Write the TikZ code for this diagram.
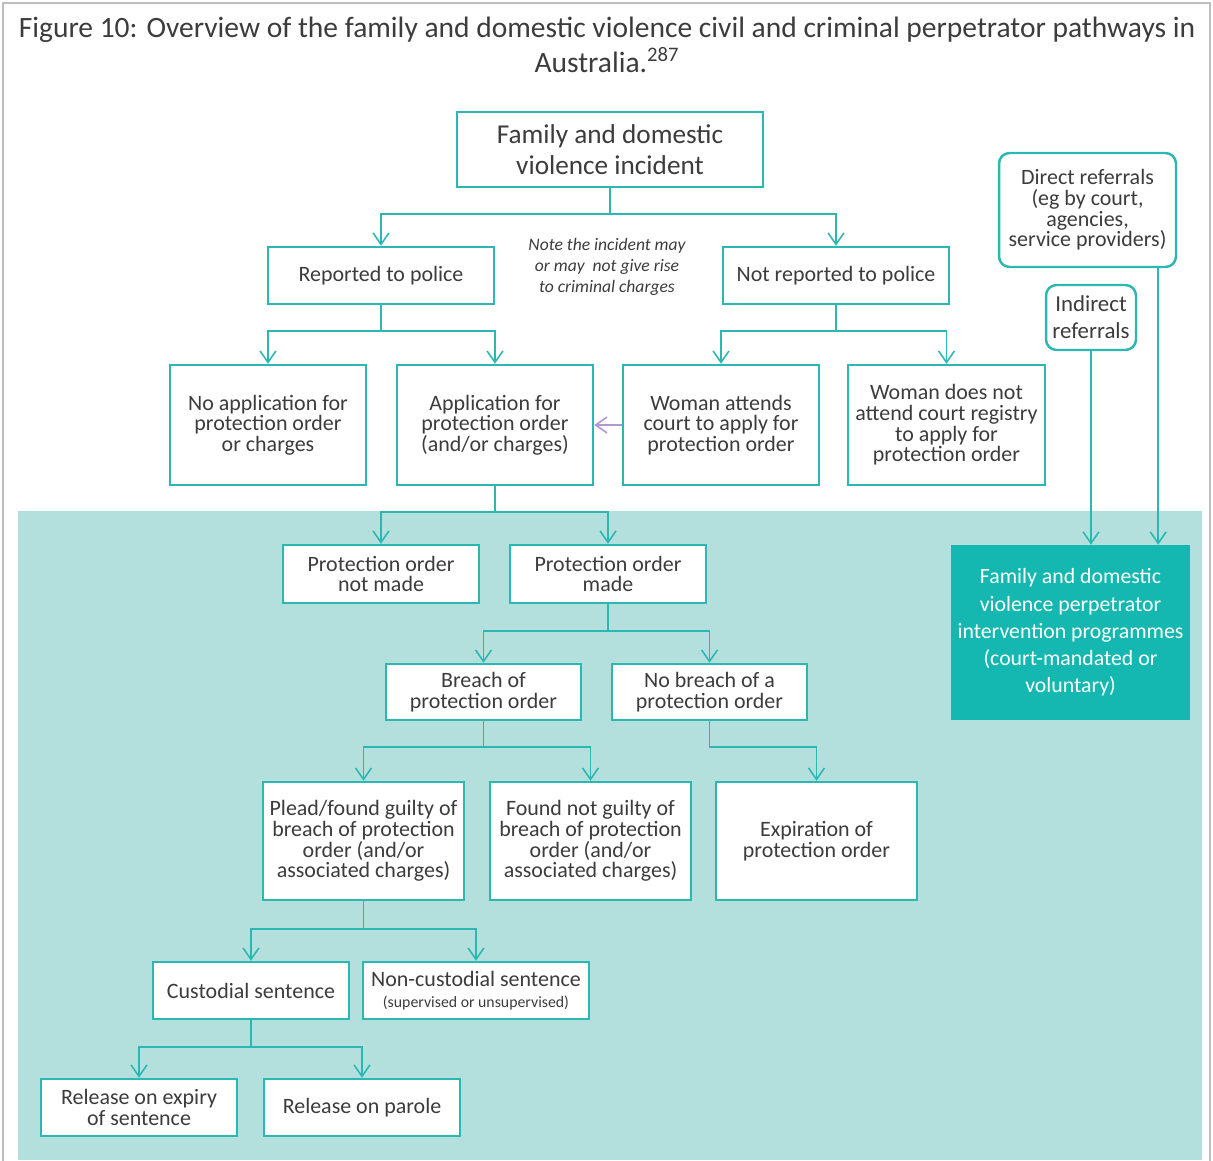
\documentclass[tikz,border=0pt]{standalone}
\usepackage{fontspec}
\setmainfont{Carlito}
\usepackage{xcolor}
\usetikzlibrary{arrows.meta,positioning,calc}
\definecolor{lineteal}{RGB}{44,184,178}
\definecolor{panel}{RGB}{179,223,221}
\definecolor{programmeteal}{RGB}{20,184,176}
\definecolor{referral}{RGB}{178,150,212}
\definecolor{framegrey}{RGB}{190,190,190}
\definecolor{textgrey}{RGB}{60,60,60}

\begin{document}
\begin{tikzpicture}[
    x=0.02cm, y=-0.02cm,
    pathbox/.style={rectangle, draw=lineteal, line width=1.4pt, fill=white, align=center, inner sep=2pt, text=textgrey, font=\fontsize{12.5}{11.8}\selectfont},
    wide/.style={minimum width=3.92cm, minimum height=2.4cm},
    short/.style={minimum width=3.92cm, minimum height=1.14cm},
    referralbox/.style={pathbox, rounded corners=6pt},
    link/.style={draw=lineteal, line width=0.9pt, -{Straight Barb[length=6.5pt, width=9pt]}}
]
    \useasboundingbox (0,0) rectangle (1213,1160);
    \fill[panel] (18,511) rectangle (1202,1160);
    \draw[framegrey, line width=1pt] (3,1170) -- (3,3) -- (1210,3) -- (1210,1170);

    \node[font=\fontsize{16.8}{20}\selectfont, text=textgrey, align=center] (title) at (607,45) {Figure 10: Overview of the family and domestic violence civil and criminal perpetrator pathways in\\Australia.\textsuperscript{287}};

    \node[pathbox, minimum width=6.12cm, minimum height=1.5cm, font=\fontsize{15.5}{18}\selectfont] (incident) at (610,149.5) {Family and domestic\\violence incident};
    \node[pathbox, minimum width=4.52cm, minimum height=1.14cm] (reported) at (381,275.5) {Reported to police};
    \node[pathbox, minimum width=4.52cm, minimum height=1.14cm] (notreported) at (836,275.5) {Not reported to police};
    \node[text=textgrey, align=center, font=\itshape\fontsize{10}{12}\selectfont] (note) at (607,267) {Note the incident may\\or may\ \ not give rise\\to criminal charges};

    \node[pathbox, wide] (noapp) at (268,425) {No application for\\protection order\\or charges};
    \node[pathbox, wide] (app) at (495,425) {Application for\\protection order\\(and/or charges)};
    \node[pathbox, wide] (attends) at (721,425) {Woman attends\\court to apply for\\protection order};
    \node[pathbox, wide, minimum width=3.94cm] (notattend) at (946.5,425) {Woman does not\\attend court registry\\to apply for\\protection order};

    \node[referralbox, minimum width=3.54cm, minimum height=2.28cm] (direct) at (1087.5,210) {Direct referrals\\(eg by court,\\agencies,\\service providers)};
    \node[referralbox, minimum width=1.8cm, minimum height=1.3cm, font=\fontsize{13}{15.5}\selectfont] (indirect) at (1091,317.5) {Indirect\\referrals};

    \node[pathbox, short, minimum height=1.16cm] (ponot) at (381,574) {Protection order\\not made};
    \node[pathbox, short, minimum height=1.16cm] (pomade) at (608,574) {Protection order\\made};
    \node[pathbox, short, minimum width=3.9cm, minimum height=1.12cm] (breach) at (483.5,692) {Breach of\\protection order};
    \node[pathbox, short, minimum width=3.9cm, minimum height=1.12cm] (nobreach) at (709.5,692) {No breach of a\\protection order};

    \node[pathbox, minimum width=4.02cm, minimum height=2.36cm] (guilty) at (363.5,841) {Plead/found guilty of\\breach of protection\\order (and/or\\associated charges)};
    \node[pathbox, minimum width=4.02cm, minimum height=2.36cm] (notguilty) at (590.5,841) {Found not guilty of\\breach of protection\\order (and/or\\associated charges)};
    \node[pathbox, minimum width=4.02cm, minimum height=2.36cm] (expire) at (816.5,841) {Expiration of\\protection order};

    \node[pathbox, short] (custodial) at (251,990.5) {Custodial sentence};
    \node[pathbox, short, minimum width=4.52cm] (noncust) at (476,990.5) {Non-custodial sentence\\{\fontsize{9}{12}\selectfont (supervised or unsupervised)}};
    \node[pathbox, short] (expiry) at (139,1107.5) {Release on expiry\\of sentence};
    \node[pathbox, short] (parole) at (362,1107.5) {Release on parole};

    \node[rectangle, fill=programmeteal, minimum width=4.78cm, minimum height=3.5cm, align=center, text=white, font=\fontsize{12.4}{15.5}\selectfont] (programme) at (1070.5,632.5) {Family and domestic\\violence perpetrator\\intervention programmes\\(court-mandated or\\voluntary)};

    \draw[link] (incident.south) -- ++(0,26) -| (reported.north);
    \draw[link] (incident.south) -- ++(0,26) -| (notreported.north);
    \draw[link] (reported.south) -- ++(0,26) -| (noapp.north);
    \draw[link] (reported.south) -- ++(0,26) -| (app.north);
    \draw[link] (notreported.south) -- ++(0,26) -| (attends.north);
    \draw[link] (notreported.south) -- ++(0,26) -| (notattend.north);
    \draw[link, draw=referral] (attends.west) -- (app.east);
    \draw[link] (app.south) -- ++(0,26) -| (ponot.north);
    \draw[link] (app.south) -- ++(0,26) -| (pomade.north);
    \draw[link] (pomade.south) -- ++(0,27) -| (breach.north);
    \draw[link] (pomade.south) -- ++(0,27) -| (nobreach.north);
    \draw[link] (breach.south) -- ++(0,26) -| (guilty.north);
    \draw[link] (breach.south) -- ++(0,26) -| (notguilty.north);
    \draw[link] (nobreach.south) -- ++(0,26) -| (expire.north);
    \draw[link] (guilty.south) -- ++(0,28) -| (custodial.north);
    \draw[link] (guilty.south) -- ++(0,28) -| (noncust.north);
    \draw[link] (custodial.south) -- ++(0,27) -| (expiry.north);
    \draw[link] (custodial.south) -- ++(0,27) -| (parole.north);

    \coordinate (dtop) at ([xshift=-0.38cm]direct.south east);
    \draw[link] (indirect.south) -- (indirect.south |- programme.north);
    \draw[link] (dtop) -- (dtop |- programme.north);
\end{tikzpicture}
\end{document}
